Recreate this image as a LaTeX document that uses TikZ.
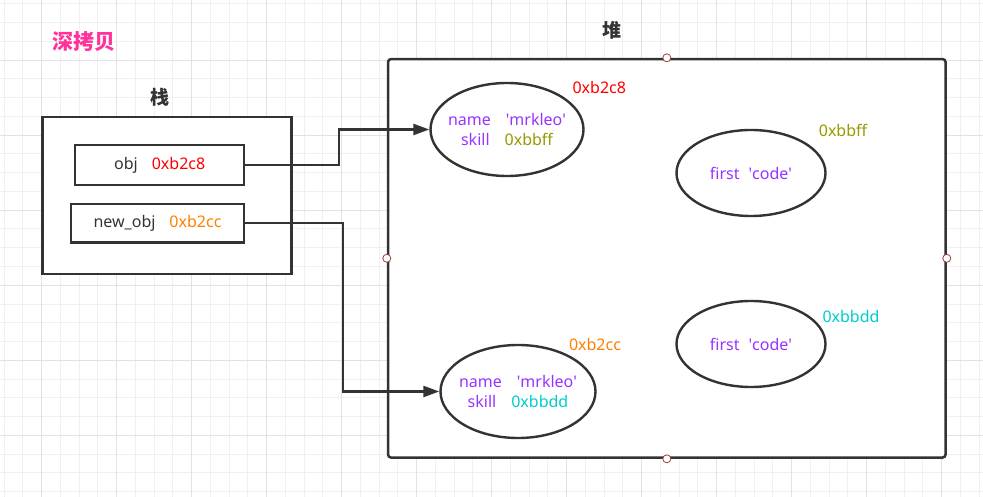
\documentclass[tikz,border=0pt]{standalone}
\usepackage{fontspec}
\setmainfont{Noto Sans}
\newfontfamily\cjk{Noto Sans CJK SC}
\usetikzlibrary{arrows.meta,positioning,shapes.geometric}
\definecolor{strokegray}{HTML}{333333}
\definecolor{fieldpurple}{HTML}{9933FF}
\definecolor{addrred}{HTML}{FF0000}
\definecolor{addrorange}{HTML}{FF8000}
\definecolor{addrolive}{HTML}{999900}
\definecolor{addrcyan}{HTML}{00CCCC}
\definecolor{titlepink}{HTML}{FF3399}
\definecolor{gridminor}{HTML}{F0F0F0}
\definecolor{gridmajor}{HTML}{E2E2E2}
\definecolor{pointred}{HTML}{A33A3A}
\tikzset{
box/.style={draw=strokegray,line width=2.5pt,fill=white,inner sep=0pt},
heapframe/.style={box,rounded corners=3pt},
objellipse/.style={ellipse,draw=strokegray,line width=2.4pt,fill=white,inner sep=0pt},
fields/.style={align=center,text=fieldpurple,inner sep=0pt},
title/.style={font=\cjk\bfseries\fontsize{19}{22}\selectfont,text=strokegray},
addr/.style={font=\fontsize{16}{19.5}\selectfont},
edgepoint/.style={circle,draw=pointred,fill=white,line width=0.8pt,minimum size=8pt,inner sep=0pt},
link/.style={-{Triangle[length=16pt,width=11pt]},draw=strokegray,line width=2.4pt},
}
\tikzstyle{every node}=[font=\fontsize{16}{19.5}\selectfont]
\newcommand{\qs}{\textquotesingle}

\begin{document}
\begin{tikzpicture}[x=1pt,y=-1pt]
    \useasboundingbox (0,0) rectangle (983,497);
    \fill[white] (0,0) rectangle (983,497);
    % background grid
    \foreach \gx in {4,22.75,...,982} \draw[gridminor,line width=1pt] (\gx,0) -- (\gx,497);
    \foreach \gy in {4,22.75,...,496} \draw[gridminor,line width=1pt] (0,\gy) -- (983,\gy);
    \foreach \gx in {41.5,116.5,...,982} \draw[gridmajor,line width=1.2pt] (\gx,0) -- (\gx,497);
    \foreach \gy in {60.25,135.25,...,496} \draw[gridmajor,line width=1.2pt] (0,\gy) -- (983,\gy);

    \node[title,text=titlepink,font=\cjk\bfseries\fontsize{21}{24}\selectfont] (deepcopy) at (84,42) {深拷贝};

    % stack
    \node[title] (stacktitle) at (160,97.3) {栈};
    \node[box,minimum width=249pt,minimum height=157pt] (stack) at (167.2,195.3) {};
    \node[box,minimum width=169pt,minimum height=40pt,line width=2.3pt] (obj) at (159.7,165)
        {\textcolor{strokegray}{obj}\hspace{14pt}\textcolor{addrred}{0xb2c8}};
    \node[box,minimum width=173pt,minimum height=38.5pt,line width=2.3pt] (newobj) at (157.5,223.3)
        {\textcolor{strokegray}{new\_obj}\hspace{14pt}\textcolor{addrorange}{0xb2cc}};

    % heap
    \node[title] (heaptitle) at (612.3,30) {堆};
    \node[heapframe,minimum width=557.5pt,minimum height=398.5pt] (heap) at (666.8,258.3) {};
    \node[edgepoint] (heapN) at (heap.north) {};
    \node[edgepoint] (heapS) at (heap.south) {};
    \node[edgepoint] (heapW) at (heap.west) {};
    \node[edgepoint] (heapE) at (heap.east) {};

    \node[objellipse,minimum width=153pt,minimum height=93pt] (objA) at (507,129.5) {};
    \node[fields] (objAtext) at (objA)
        {name\hspace{15pt}\qs mrkleo\qs\\skill\hspace{15pt}\textcolor{addrolive}{0xbbff}};
    \node[objellipse,minimum width=155pt,minimum height=93pt] (objB) at (518,391.5) {};
    \node[fields] (objBtext) at (objB)
        {name\hspace{15pt}\qs mrkleo\qs\\skill\hspace{15pt}\textcolor{addrcyan}{0xbbdd}};
    \node[objellipse,minimum width=149pt,minimum height=86pt] (skillA) at (751,173) {};
    \node[fields] (skillAtext) at (skillA) {first\hspace{9pt}\qs code\qs};
    \node[objellipse,minimum width=149pt,minimum height=86pt] (skillB) at (751,344) {};
    \node[fields] (skillBtext) at (skillB) {first\hspace{9pt}\qs code\qs};

    \node[addr,text=addrred] (addrA) at (599.3,87.7) {0xb2c8};
    \node[addr,text=addrorange] (addrB) at (595,344) {0xb2cc};
    \node[addr,text=addrolive] (addrC) at (843,130) {0xbbff};
    \node[addr,text=addrcyan] (addrD) at (851,316.7) {0xbbdd};

    % references
    \draw[link] (obj.east) -- ++(93.5,0) |- (objA.west);
    \draw[link] (newobj.east) -- ++(97.7,0) |- (objB.west);
\end{tikzpicture}
\end{document}
